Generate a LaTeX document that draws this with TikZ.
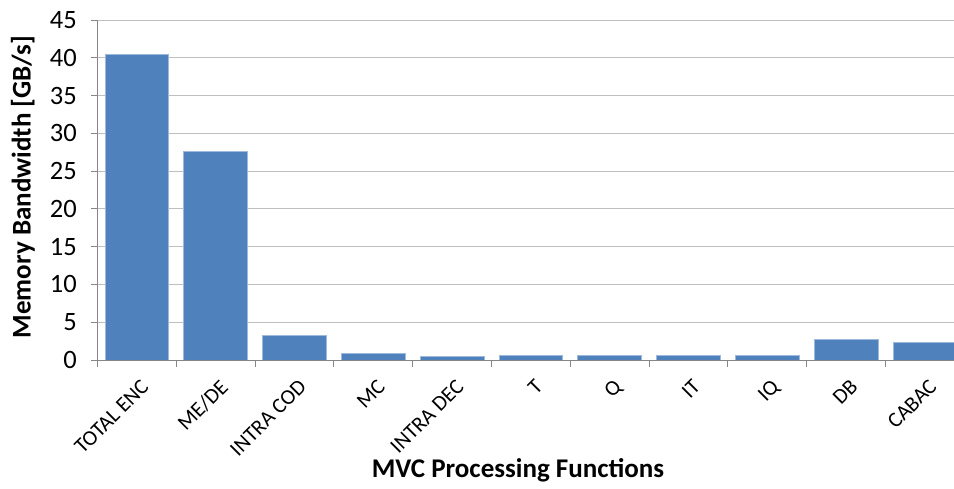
\documentclass[tikz,border=0pt]{standalone}
\usepackage{fontspec}
\setmainfont{Carlito}
\begin{document}
\begin{tikzpicture}[x=1pt,y=-1pt]
\definecolor{barblue}{HTML}{4F81BD}
\definecolor{gridgray}{HTML}{BFBFBF}
\definecolor{axisgray}{HTML}{868686}
\tikzset{
  gridline/.style={draw=gridgray, line width=1pt},
  axisline/.style={draw=axisgray, line width=1pt},
  bar/.style={fill=barblue, draw=barblue!55!white, line width=0.8pt},
  ticklabel/.style={font=\fontsize{26.5}{26.5}\selectfont, anchor=east, inner sep=0pt},
  catlabel/.style={font=\fontsize{21.5}{21.5}\selectfont, anchor=north east, rotate=45, inner sep=0pt},
  axistitle/.style={font=\bfseries\fontsize{27}{27}\selectfont, inner sep=0pt}
}
\useasboundingbox (0,0) rectangle (954,488);
\begin{scope}
\clip (0,0) rectangle (954,488);
% plot geometry: x0 = 97.5, category width 78.8, y(0)=360, 7.556 px per unit
\def\xO{97.5}
\def\cw{78.8}
\def\yO{360}
\def\ys{7.5556}
% horizontal grid lines
\foreach \v in {5,10,...,45}{
  \draw[gridline] (\xO,{\yO-\v*\ys}) -- (966,{\yO-\v*\ys});
}
% bars
\foreach \v [count=\i from 0] in {40.46,27.62,3.2,0.88,0.44,0.66,0.66,0.66,0.66,2.74,2.38}{
  \path[bar] ({\xO+\i*\cw+7.5},\yO) rectangle ({\xO+\i*\cw+71.3},{\yO-\v*\ys});
}
% axes
\coordinate (origin) at (\xO,\yO);
\coordinate (ytop) at (\xO,{\yO-45*\ys});
\coordinate (xend) at (966,\yO);
\draw[axisline] (ytop) -- (origin) -- (xend);
% y ticks and labels
\foreach \v in {0,5,...,45}{
  \draw[axisline] (\xO-6.5,{\yO-\v*\ys}) -- (\xO,{\yO-\v*\ys});
  \node[ticklabel] (yl\v) at (77,{\yO-\v*\ys}) {\v};
}
% x ticks
\foreach \i in {0,...,11}{
  \draw[axisline] ({\xO+\i*\cw},\yO) -- ({\xO+\i*\cw},\yO+6.5);
}
% category labels
\foreach \t [count=\i from 0] in {TOTAL ENC,ME/DE,INTRA COD,MC,INTRA DEC,T,Q,IT,IQ,DB,CABAC}{
  \node[catlabel] (c\i) at ({\xO+\i*\cw+39.4+3},378) {\t};
}
\end{scope}
% axis titles
\node[axistitle] (xt) at (518,470) {MVC Processing Functions};
\node[axistitle, rotate=90] (yt) at (23,187) {Memory Bandwidth [GB/s]};
\end{tikzpicture}
\end{document}
